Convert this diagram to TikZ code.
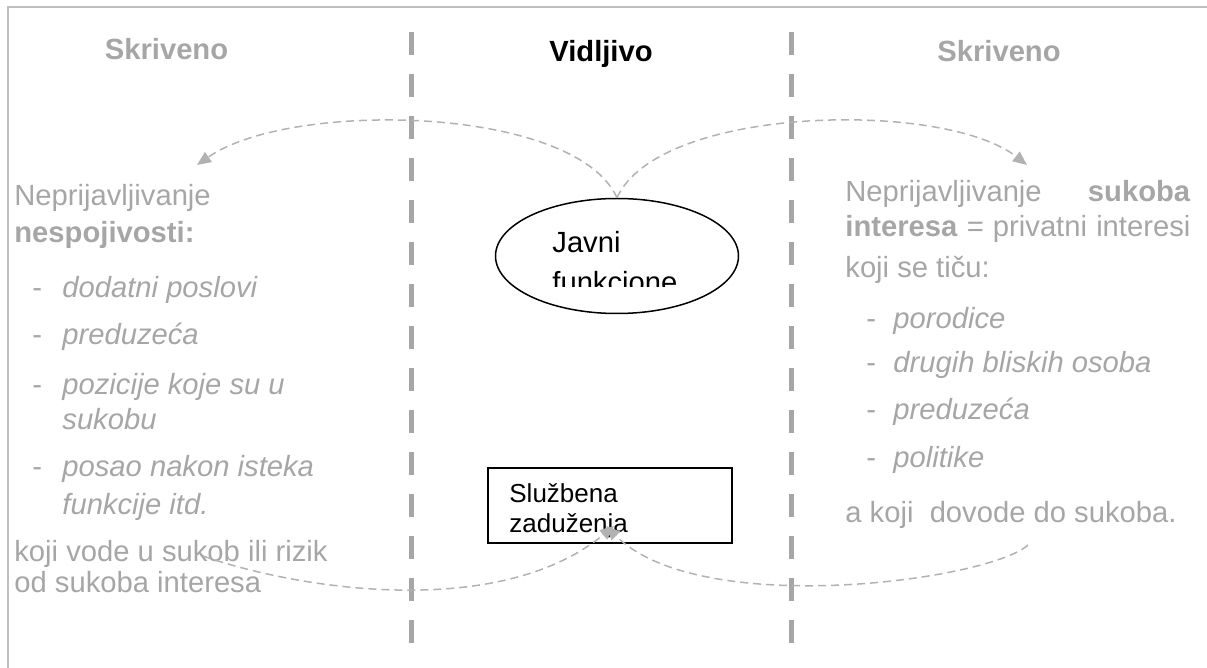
\documentclass[tikz,border=0pt]{standalone}
\usepackage{fontspec}
\setmainfont{Liberation Sans}
\usetikzlibrary{arrows.meta,shapes.geometric,calc}
\definecolor{txtgray}{RGB}{166,166,166}
\definecolor{divgray}{RGB}{166,166,166}
\definecolor{arrgray}{RGB}{178,178,178}
\definecolor{framegray}{RGB}{191,191,191}
\tikzset{
  txtbase/.style={font=\fontsize{14.6}{17}\selectfont, inner sep=0pt, anchor=base west},
  gtxt/.style={txtbase, text=txtgray},
  gital/.style={gtxt, font=\fontsize{14.6}{17}\selectfont\itshape},
  head/.style={font=\fontsize{14.6}{17}\selectfont\bfseries, inner sep=0pt, anchor=base},
  boxtxt/.style={font=\fontsize{13}{16}\selectfont, inner sep=0pt, anchor=base west},
  divider/.style={draw=divgray, line width=2.5pt, dash pattern=on 11.5pt off 9.5pt},
  link/.style={draw=arrgray, line width=0.75pt, dash pattern=on 4pt off 2.5pt, -{Triangle[length=7pt,width=6pt]}, arrgray},
}
\begin{document}
\begin{tikzpicture}[x=0.5pt,y=-0.5pt]
\useasboundingbox (0,0) rectangle (1207,668);
% frame
\coordinate (fbl) at (8,668);
\coordinate (ftl) at (8,7);
\coordinate (ftr) at (1207,7);
\draw[framegray, line width=1pt] (fbl) -- (ftl) -- (ftr);
% dividers
\coordinate (d1t) at (411,32); \coordinate (d1b) at (411,645);
\coordinate (d2t) at (791,32); \coordinate (d2b) at (791,645);
\draw[divider] (d1t) -- (d1b);
\draw[divider] (d2t) -- (d2b);
% headers
\node[head, text=txtgray] (hl) at (166.5,60) {Skriveno};
\node[head] (hm) at (601,62) {Vidljivo};
\node[head, text=txtgray] (hr) at (999,62) {Skriveno};
% left block
\node[gtxt] (l1) at (14,206) {Neprijavljivanje};
\node[gtxt] (l2) at (14,243) {\textbf{nespojivosti:}};
\node[gtxt] (ld1) at (32,298) {-};
\node[gital] (li1) at (62,298) {dodatni poslovi};
\node[gtxt] (ld2) at (32,345) {-};
\node[gital] (li2) at (62,345) {preduzeća};
\node[gtxt] (ld3) at (32,395) {-};
\node[gital] (li3) at (62,395) {pozicije koje su u};
\node[gital] (li3b) at (62,430) {sukobu};
\node[gtxt] (ld4) at (32,477) {-};
\node[gital] (li4) at (62,477) {posao nakon isteka};
\node[gital] (li4b) at (62,515) {funkcije itd.};
\node[gtxt] (l3) at (14,562) {koji vode u sukob ili rizik};
\node[gtxt] (l4) at (14,593) {od sukoba interesa};
% right block
\node[gtxt] (r1) at (845,202) {\hbox to 172.5pt{Neprijavljivanje\hfill\textbf{sukoba}}};
\node[gtxt] (r2) at (845,237) {\hbox to 172.5pt{\textbf{interesa}\hfill=\hfill privatni\hfill interesi}};
\node[gtxt] (r3) at (845,278) {koji se tiču:};
\node[gtxt] (rd1) at (866,329) {-};
\node[gital] (ri1) at (893,329) {porodice};
\node[gtxt] (rd2) at (866,373) {-};
\node[gital] (ri2) at (893,373) {drugih bliskih osoba};
\node[gtxt] (rd3) at (866,420) {-};
\node[gital] (ri3) at (893,420) {preduzeća};
\node[gtxt] (rd4) at (866,468) {-};
\node[gital] (ri4) at (893,468) {politike};
\node[gtxt] (r4) at (845,523) {a koji\ \ dovode do sukoba.};
% ellipse
\node[draw, ellipse, line width=0.75pt, minimum width=121.5pt, minimum height=57.5pt, inner sep=0pt] (jf) at (617,256) {};
\begin{scope}
\clip (540,215) rectangle (700,287);
\node[txtbase] (jt1) at (552,253) {Javni};
\node[txtbase] (jt2) at (552,293) {funkcione};
\end{scope}
% box
\node[draw, line width=0.75pt, minimum width=122pt, minimum height=37.5pt, inner sep=0pt] (sz) at (610,505.5) {};
\begin{scope}
\clip (490,470) rectangle (730,541);
\node[boxtxt] (st1) at (509,503) {Službena};
\node[boxtxt] (st2) at (509,533) {zaduženja};
\end{scope}
% connectors
\coordinate (la) at (197,165);
\coordinate (ra) at (1027,165);
\draw[link] (jf.north) .. controls (575,105) and (290,100) .. (la);
\draw[link] (jf.north) .. controls (659,105) and (944,100) .. (ra);
\coordinate (ls) at (203,556);
\coordinate (rs) at (1028,545);
\coordinate (szl) at (614,526);
\coordinate (szr) at (606,526);
\draw[link] (ls) .. controls (300,590) and (500,620) .. (szl);
\draw[link] (rs) .. controls (990,580) and (700,620) .. (szr);
\end{tikzpicture}
\end{document}
